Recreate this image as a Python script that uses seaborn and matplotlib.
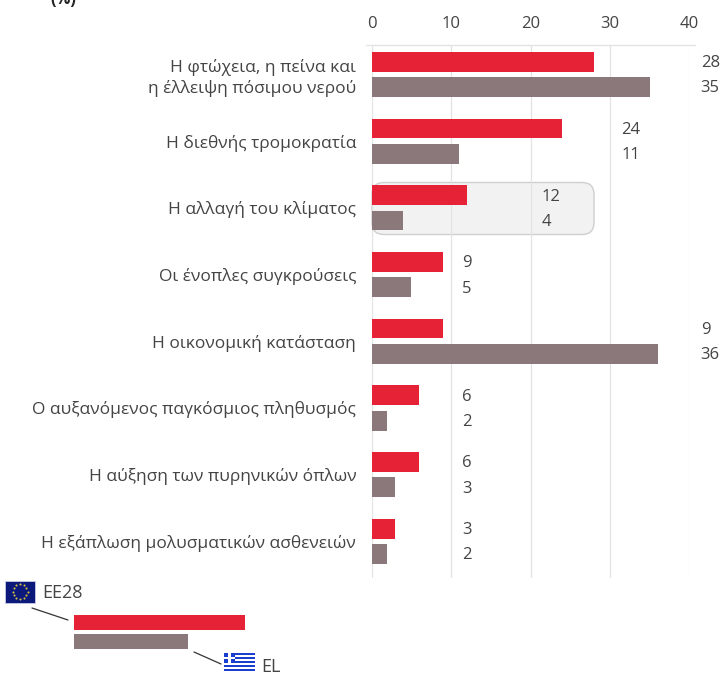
import numpy as np
import pandas as pd
import seaborn as sns
import matplotlib
matplotlib.use("Agg")
import matplotlib.pyplot as plt
from matplotlib.patches import Rectangle, FancyBboxPatch

categories = [
    "Η φτώχεια, η πείνα και\nη έλλειψη πόσιμου νερού",
    "Η διεθνής τρομοκρατία",
    "Η αλλαγή του κλίματος",
    "Οι ένοπλες συγκρούσεις",
    "Η οικονομική κατάσταση",
    "Ο αυξανόμενος παγκόσμιος πληθυσμός",
    "Η αύξηση των πυρηνικών όπλων",
    "Η εξάπλωση μολυσματικών ασθενειών",
]
ee28 = [28, 24, 12, 9, 9, 6, 6, 3]
el = [35, 11, 4, 5, 36, 2, 3, 2]
xticks = [0, 10, 20, 30, 40]
legend_names = ["EE28", "EL"]
legend_values = [28, 18.7]

RED = "#e62236"
GREY = "#8a787b"
TEXT = "#444444"
GRID = "#e3e3e3"

W, H = 721, 673

sns.set_theme(style="white")
plt.rcParams["font.family"] = ["Open Sans", "DejaVu Sans"]

df = pd.DataFrame({"cat": categories, "EE28": ee28, "EL": el})
long_df = df.melt(id_vars="cat", var_name="series", value_name="value")

fig = plt.figure(figsize=(W / 100, H / 100), dpi=100)


def px_axes(x0, y0, x1, y1, **kw):
    # axes placed by reference pixel box
    return fig.add_axes([x0 / W, 1 - y1 / H, (x1 - x0) / W, (y1 - y0) / H], **kw)


# background layer in pixel coordinates (flags, box, leader lines)
bg = px_axes(0, 0, W, H, zorder=0)
bg.set_xlim(0, W)
bg.set_ylim(H, 0)
bg.axis("off")

ax = px_axes(371.5, 45, 689.5, 578, zorder=1)
ax.patch.set_alpha(0)
sns.barplot(data=long_df, y="cat", x="value", hue="series", palette=[RED, GREY],
            width=0.76, gap=0.22, legend=False, ax=ax, saturation=1, linewidth=0)
ax.set_xlim(0, 40)
ax.set_ylim(7.549, -0.442)
ax.set_xlabel("")
ax.set_ylabel("")
ax.set_xticks(xticks)
ax.xaxis.tick_top()
ax.tick_params(axis="x", length=0, pad=9, labelsize=12, labelcolor=TEXT)
ax.tick_params(axis="y", length=0, pad=11, labelsize=12.5, labelcolor=TEXT)
for lab in ax.get_yticklabels():
    lab.set_linespacing(1.3)
ax.grid(axis="x", color=GRID, lw=0.9)
ax.set_axisbelow(True)
for s in ax.spines.values():
    s.set_visible(False)
bg.plot([366, 695], [45, 45], color=GRID, lw=1)

# value labels sit at the next ten above the longest bar of the group
for i, (a, b) in enumerate(zip(ee28, el)):
    lx = np.ceil(max(a, b) / 10) * 10 + 1.4
    ax.text(lx, i - 0.17, str(a), va="center", ha="left", fontsize=12, color=TEXT, clip_on=False)
    ax.text(lx, i + 0.21, str(b), va="center", ha="left", fontsize=12, color=TEXT, clip_on=False)

# highlight behind the climate row
bg.add_patch(FancyBboxPatch((372, 182.5), 222, 52, boxstyle="round,pad=0,rounding_size=12",
                            fc="#f2f2f2", ec="#cfcfcf", lw=1))

bg.text(63, -1, "(%)", fontsize=12, fontweight="bold", color="#222222", ha="center", va="center")

# legend sample
leg = px_axes(73.5, 613, 245, 651, zorder=1)
sns.barplot(x=legend_values, y=legend_names, hue=legend_names, palette=[RED, GREY],
            width=0.84, legend=False, ax=leg, saturation=1, linewidth=0)
leg.set_xlim(0, legend_values[0])
leg.axis("off")

bg.plot([32, 68], [608, 620], color="#333333", lw=0.9)
bg.plot([194, 221], [652, 664], color="#333333", lw=0.9)
bg.text(42, 593, "EE28", fontsize=13, color=TEXT, va="center")
bg.text(261, 672, "EL", fontsize=13, color=TEXT, va="baseline")

# EU flag
bg.add_patch(Rectangle((5, 580.5), 30, 22.5, fc="#0b1a7a", ec="#c9cbe0", lw=0.6))
ang = np.arange(12) * np.pi / 6
bg.scatter(20 + 7.5 * np.cos(ang), 591.7 + 7.5 * np.sin(ang), s=2.2, color="#d9c23a", lw=0, zorder=3)

# Greek flag
bg.add_patch(Rectangle((224, 653), 31, 18, fc="white", ec="none"))
for k in range(0, 9, 2):
    bg.add_patch(Rectangle((224, 653 + k * 2), 31, 2, fc="#1a3fd0", ec="none"))
bg.add_patch(Rectangle((224, 653), 11, 10, fc="#1a3fd0", ec="none"))
bg.add_patch(Rectangle((228.4, 653), 2.2, 10, fc="white", ec="none"))
bg.add_patch(Rectangle((224, 656.9), 11, 2.2, fc="white", ec="none"))

fig.savefig("out.png", dpi=100)
